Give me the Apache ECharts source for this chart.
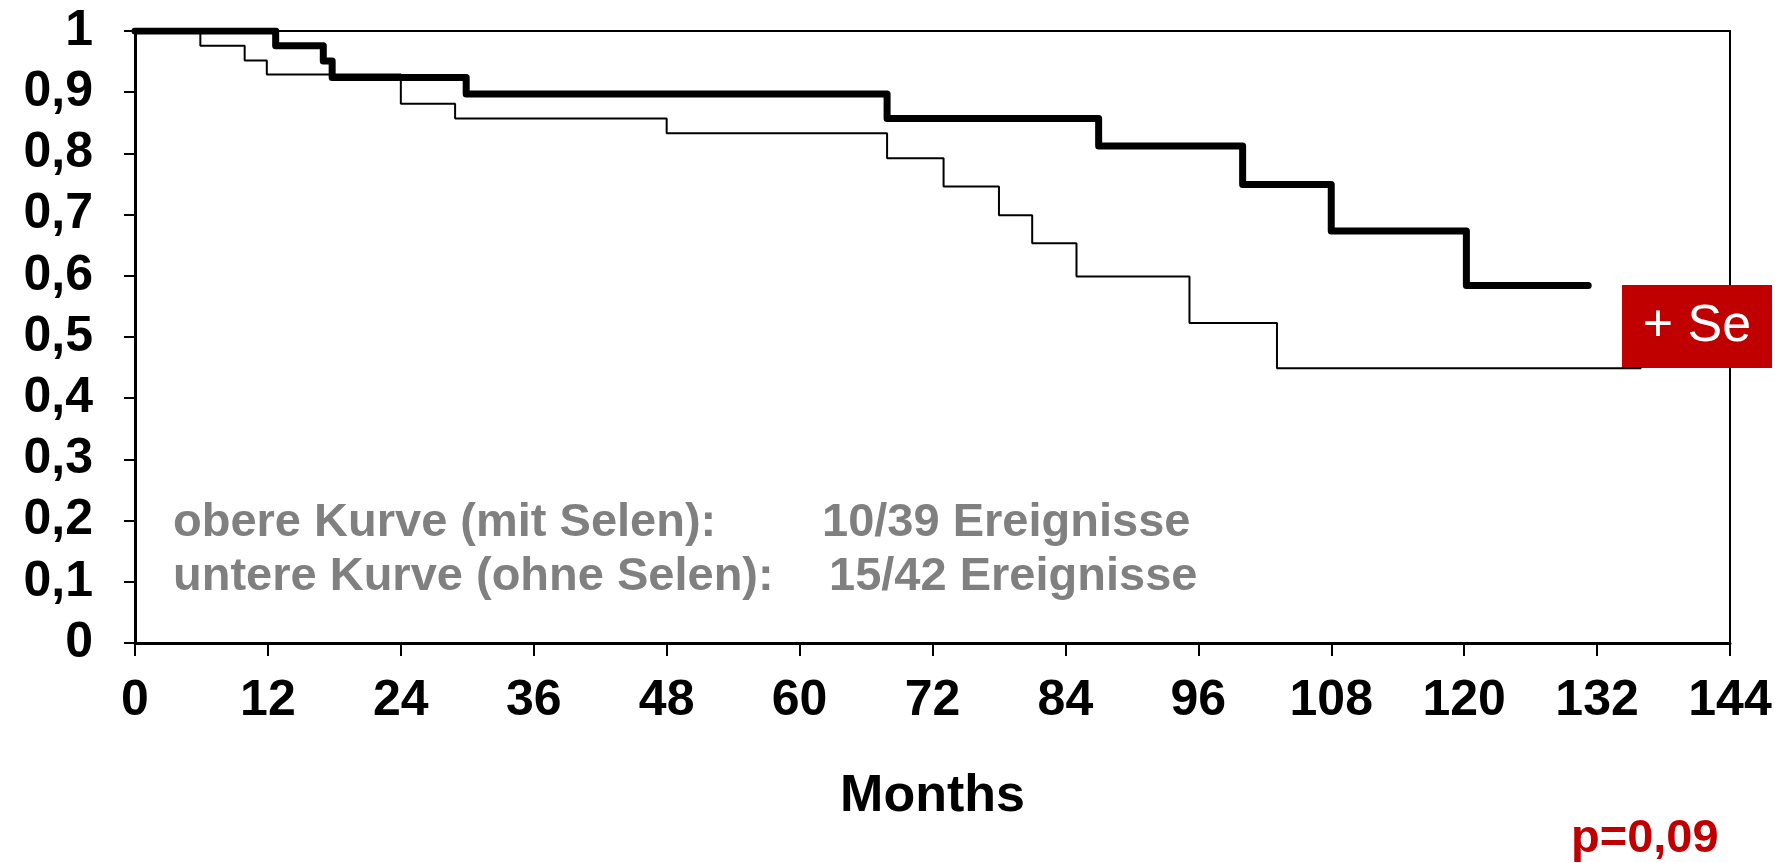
<!DOCTYPE html>
<html>
<head>
<meta charset="utf-8">
<script src="https://cdn.jsdelivr.net/npm/echarts@6/dist/echarts.min.js"></script>
<style>
html,body{margin:0;padding:0;background:#fff;}
#main{width:1785px;height:863px;}
</style>
</head>
<body>
<div id="main"></div>
<script>
// obere Kurve (mit Selen)
var seMonths = [0, 12.7, 17, 17.8, 29.9, 67.9, 87, 100, 108, 120.2, 131.2];
var seSurv   = [1, 0.976, 0.951, 0.924, 0.897, 0.857, 0.812, 0.749, 0.673, 0.584, 0.584];
// untere Kurve (ohne Selen)
var noMonths = [0, 5.9, 9.9, 11.9, 24, 28.9, 48, 67.9, 73, 78, 81, 85, 95.2, 103.1, 136];
var noSurv   = [1, 0.976, 0.952, 0.929, 0.881, 0.857, 0.833, 0.792, 0.746, 0.699, 0.653, 0.599, 0.523, 0.449, 0.449];
var xTicks = [0, 144, 12];
var yTicks = [0, 1, 0.1];

var font = '"Liberation Sans", Arial, sans-serif';

function pairs(xs, ys){
	var out = [];
	for(var i=0;i<xs.length;i++){
		out.push([xs[i], ys[i]]);
	}
	return out;
}

var chart = echarts.init(document.getElementById("main"));
var option = {
	backgroundColor:'#fff',
	animation:false,
	grid:{
		left:135, right:55, top:31, bottom:220,
		show:true, borderColor:'#000', borderWidth:2
	},
	xAxis:{
		type:'value',
		min:xTicks[0], max:xTicks[1], interval:xTicks[2],
		name:'Months',
		nameLocation:'middle',
		nameGap:128,
		nameTextStyle:{color:'#000', fontSize:52, fontWeight:'bold', fontFamily:font},
		axisLine:{lineStyle:{color:'#000', width:3}},
		axisTick:{show:true, length:13, lineStyle:{color:'#000', width:2}},
		axisLabel:{color:'#000', fontSize:50, fontWeight:'bold', fontFamily:font, margin:33},
		splitLine:{show:false}
	},
	yAxis:{
		type:'value',
		min:yTicks[0], max:yTicks[1], interval:yTicks[2],
		axisLine:{show:true, lineStyle:{color:'#000', width:3}},
		axisTick:{show:true, length:11, lineStyle:{color:'#000', width:2}},
		axisLabel:{
			color:'#000', fontSize:50, fontWeight:'bold', fontFamily:font, margin:42,
			formatter:function(v){
				var s = (Math.round(v*10)/10).toString();
				return s.replace('.', ',');
			}
		},
		splitLine:{show:false}
	},
	series:[
		{
			name:'ohne Selen',
			type:'line',
			step:'end',
			symbol:'none',
			data:pairs(noMonths, noSurv),
			lineStyle:{color:'#000', width:2},
			z:2
		},
		{
			name:'mit Selen',
			type:'line',
			step:'end',
			symbol:'none',
			data:pairs(seMonths, seSurv),
			lineStyle:{color:'#000', width:7, cap:'round', join:'round'},
			z:3
		}
	],
	graphic:[
		{type:'text', left:173, top:500, style:{text:'obere Kurve (mit Selen):', fill:'#808080', font:'bold 47px '+font}},
		{type:'text', left:822, top:500, style:{text:'10/39 Ereignisse', fill:'#808080', font:'bold 47px '+font}},
		{type:'text', left:173, top:554, style:{text:'untere Kurve (ohne Selen):', fill:'#808080', font:'bold 47px '+font}},
		{type:'text', left:829, top:554, style:{text:'15/42 Ereignisse', fill:'#808080', font:'bold 47px '+font}},
		{type:'text', left:1571, top:816, style:{text:'p=0,09', fill:'#C00000', font:'bold 47px '+font}},
		//rote Box "+ Se"
		{
			type:'group', left:1622, top:285, z:100,
			children:[
				{type:'rect', shape:{x:0, y:0, width:150, height:83}, style:{fill:'#C00000'}},
				{type:'text', x:75, y:42, style:{text:'+ Se', fill:'#fff', font:'52px '+font, align:'center', verticalAlign:'middle'}}
			]
		}
	]
};
chart.setOption(option);
</script>
</body>
</html>
